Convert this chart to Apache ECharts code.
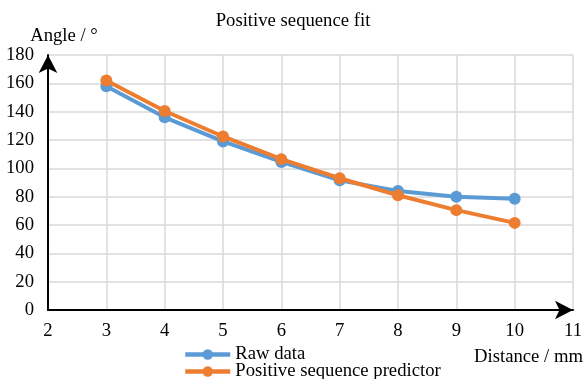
<!DOCTYPE html>
<html>
<head>
<meta charset="utf-8">
<script src="https://cdn.jsdelivr.net/npm/echarts@6/dist/echarts.min.js"></script>
<style>
  html, body { margin: 0; padding: 0; background: #fff; }
  #chart { width: 586px; height: 379px; }
</style>
</head>
<body>
<div id="chart"></div>
<script>
// distances (mm) and angles (deg)
const distances = [3, 4, 5, 6, 7, 8, 9, 10];
const rawAngles = [158, 136, 119, 104.5, 91.5, 84, 80, 78.5];
const predAngles = [162, 140.5, 122.5, 106.5, 93, 81, 70.5, 61.5];

const FONT = '"Liberation Serif", "Times New Roman", serif';
const FS = 18.7;
const BLUE = '#5B9BD5';
const ORANGE = '#ED7D31';

const chart = echarts.init(document.getElementById('chart'), null, { renderer: 'canvas' });

const pairs = (ys) => distances.map((x, i) => [x, ys[i]]);
const legendText = { fontFamily: FONT, fontSize: FS, color: '#000', padding: [0, 0, 0, 0] };

chart.setOption({
  backgroundColor: '#fff',
  animation: false,
  textStyle: { fontFamily: FONT, color: '#000' },
  title: {
    text: 'Positive sequence fit',
    left: 'center',
    top: 7,
    textStyle: { fontFamily: FONT, fontSize: FS, fontWeight: 'normal', color: '#000' }
  },
  grid: { left: 48, right: 10, top: 55, bottom: 69 },
  // one legend per row so the rows sit tight like the reference
  legend: [
    {
      left: 183, top: 345, padding: 0,
      itemWidth: 45, itemHeight: 13,
      lineStyle: { width: 4.5 },
      textStyle: legendText,
      data: ['Raw data']
    },
    {
      left: 183, top: 362, padding: 0,
      itemWidth: 45, itemHeight: 13,
      lineStyle: { width: 4.5 },
      textStyle: legendText,
      data: ['Positive sequence predictor']
    }
  ],
  xAxis: {
    type: 'value',
    min: 2, max: 11, interval: 1,
    name: 'Distance / mm',
    nameLocation: 'end',
    nameGap: 10,
    nameTextStyle: { fontFamily: FONT, fontSize: FS, color: '#000', align: 'right', verticalAlign: 'top', padding: [38, 0, 0, 0] },
    axisLine: { show: true, lineStyle: { color: '#000', width: 2 }, symbol: ['none', 'arrow'], symbolSize: [14, 18], symbolOffset: [0, 0] },
    axisTick: { show: false },
    axisLabel: { fontFamily: FONT, fontSize: FS, color: '#000', margin: 12 },
    splitLine: { show: true, lineStyle: { color: '#d9d9d9', width: 1.5 } }
  },
  yAxis: {
    type: 'value',
    min: 0, max: 180, interval: 20,
    name: 'Angle / °',
    nameLocation: 'end',
    nameGap: 9,
    nameTextStyle: { fontFamily: FONT, fontSize: FS, color: '#000', align: 'center', padding: [0, 0, 0, 32] },
    axisLine: { show: true, lineStyle: { color: '#000', width: 2 }, symbol: ['none', 'arrow'], symbolSize: [14, 18], symbolOffset: [0, 0] },
    axisTick: { show: false },
    axisLabel: { fontFamily: FONT, fontSize: FS, color: '#000', margin: 14 },
    splitLine: { show: true, lineStyle: { color: '#d9d9d9', width: 1.5 } }
  },
  series: [
    {
      name: 'Raw data',
      type: 'line',
      data: pairs(rawAngles),
      symbol: 'circle',
      symbolSize: 12,
      color: BLUE,
      lineStyle: { width: 4, color: BLUE },
      itemStyle: { color: BLUE },
      z: 2
    },
    {
      name: 'Positive sequence predictor',
      type: 'line',
      data: pairs(predAngles),
      symbol: 'circle',
      symbolSize: 12,
      color: ORANGE,
      lineStyle: { width: 4, color: ORANGE },
      itemStyle: { color: ORANGE },
      z: 3
    }
  ]
});
</script>
</body>
</html>
